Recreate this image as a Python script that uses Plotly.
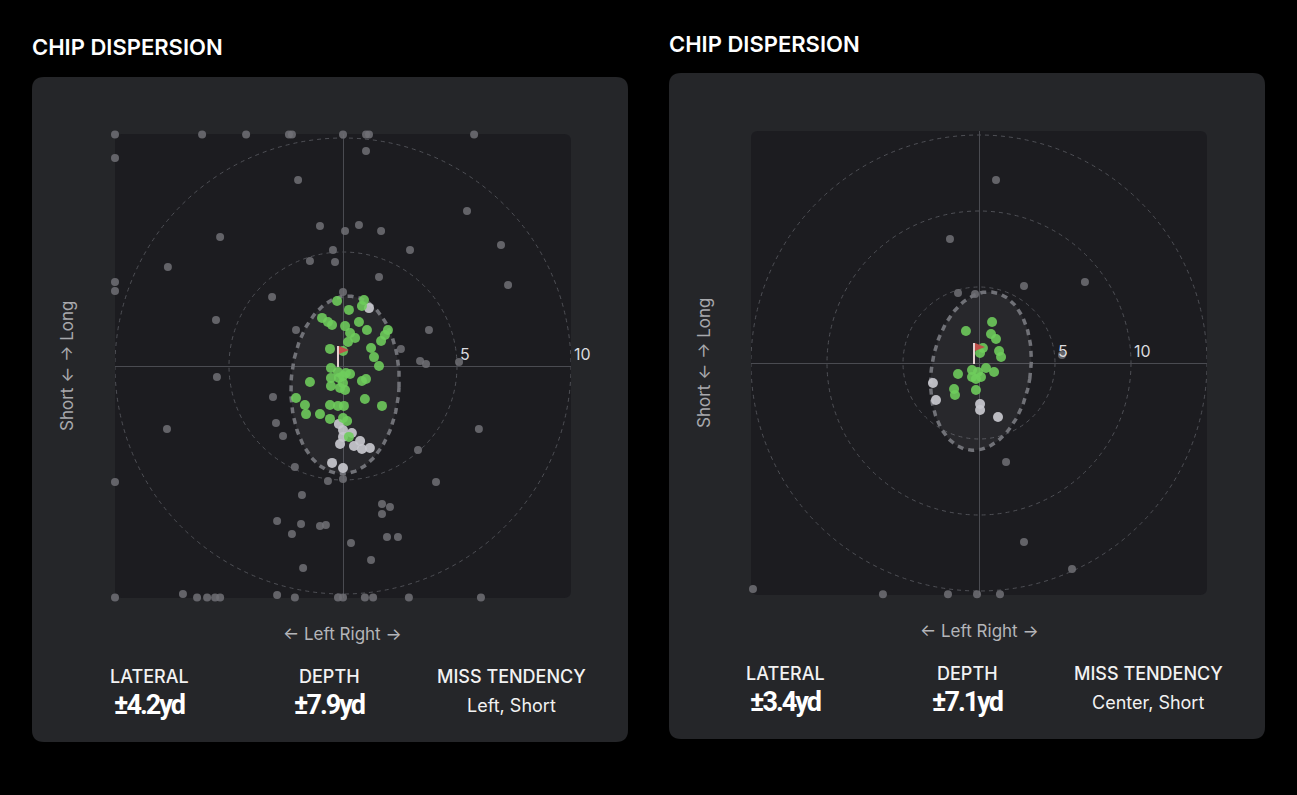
import numpy as np
import plotly.graph_objects as go

W, H = 1297, 795

# ---------------- data : left panel (yards) ----------------
a_gray_x = [-10.0, -6.18, -4.25, -2.37, -2.24, 0.0, 1.01, 1.14, 5.75,
            -10.0, 1.01, -1.97, 5.44, -5.39, -1.01, 0.09, 0.70, 1.67,
            -7.68, -0.44, 2.94, 6.93, -1.45, -0.35, 1.58, 7.24,
            -10.0, -10.0, -3.11, 0.0, -5.57, -2.06, 3.77, 2.54, 3.38, 3.64, 5.09,
            -5.53, -7.72, -3.07, -2.94, -2.63, 5.96, 3.29, -2.11, -0.66, 0.0, 4.08, -10.0,
            -1.80, 1.71, 2.06, 1.71, -2.89, -1.84, -1.01, -0.75, -2.24, 1.93, 2.41, 0.35, 1.23, -1.75,
            -7.02, -2.89,
            -10.0, -6.40, -5.96, -5.61, -5.39, -2.11, -0.22, 0.0, 0.96, 1.32, 2.89, 6.05]
a_gray_y = [10.15, 10.15, 10.15, 10.15, 10.15, 10.15, 10.15, 10.15, 10.15,
            9.12, 9.43, 8.16, 6.80, 5.66, 6.14, 5.92, 6.18, 5.92,
            4.34, 5.09, 5.09, 5.31, 4.61, 4.56, 3.90, 3.55,
            3.68, 3.29, 3.03, 3.25, 2.02, 1.58, 1.58, 0.75, 0.22, 0.09, 0.18,
            -0.48, -2.76, -1.36, -2.50, -3.07, -2.76, -3.68, -4.43, -5.04, -4.96, -5.09, -5.09,
            -5.66, -6.05, -6.18, -6.49, -6.80, -6.93, -7.02, -6.97, -7.37, -7.50, -7.50, -7.76, -8.51, -8.86,
            -10.0, -10.04,
            -10.15, -10.15, -10.15, -10.15, -10.15, -10.15, -10.15, -10.15, -10.15, -10.15, -10.15, -10.15]
a_green_x = [-0.26, 0.92, 0.83, 0.26, -0.92, -0.66, -0.48, 0.70, 0.09, 0.31, 1.05, 1.97,
             0.53, 1.84, 1.67, 0.22, -0.57, 0.0, 1.23, 1.36, 1.58, -0.53, -0.22, 0.13,
             0.31, -0.53, -0.18, 0.0, -1.45, 0.83, 1.01, -0.53, 0.0, 0.09, -0.13, -2.06,
             -1.67, -0.57, -0.22, 0.04, 0.96, 1.71, -1.62, -1.01, -0.57, 0.0, 0.18, 0.26]
a_green_y = [2.85, 2.89, 2.63, 2.46, 2.11, 1.93, 1.80, 1.93, 1.75, 1.45, 1.58, 1.58,
             1.23, 1.36, 1.10, 1.05, 0.75, 0.66, 0.79, 0.39, 0.0, -0.09, -0.26, -0.31,
             -0.35, -0.53, -0.53, -0.44, -0.70, -0.66, -0.57, -0.88, -0.75, -1.05, -0.96, -1.40,
             -1.71, -1.71, -1.75, -1.75, -1.45, -1.75, -2.11, -2.11, -2.32, -2.28, -2.41, -3.11]
a_white_x = [1.14, -0.18, 0.0, 0.39, 0.0, -0.13, 0.75, 0.48, 0.83, 1.18, -0.48, 0.0]
a_white_y = [2.54, -2.54, -2.81, -2.94, -3.11, -3.42, -3.29, -3.51, -3.64, -3.60, -4.25, -4.47]
a_rings = [5, 10]
a_ring_labels = ["5", "10"]
a_ellipse = [0.09, -0.83, 2.37, 3.90, 3.0]      # centre x, centre y, semi-x, semi-y, tilt (deg)
a_stat_values = ["±4.2yd", "±7.9yd", "Left, Short"]

# ---------------- data : right panel (yards) ----------------
b_gray_x = [1.12, -1.91, 6.97, 2.96, -1.38, -0.26, 5.46, 1.78, 2.96, 6.12, -14.87,
            -6.32, -2.04, -0.13, 1.38]
b_gray_y = [12.04, 8.16, 5.33, 5.07, 4.61, 4.54, 0.53, -6.51, -11.78, -13.55, -14.87,
            -15.22, -15.22, -15.22, -15.22]
b_green_x = [0.86, -0.86, 0.79, 1.12, 0.26, 1.32, 0.07, 1.45, 0.46, -1.38, -0.46, -0.07,
             -0.46, 0.13, -0.20, 0.99, -1.64, -1.58, -0.20]
b_green_y = [2.70, 2.11, 1.91, 1.58, 0.99, 0.79, 0.66, 0.39, -0.33, -0.72, -0.46, -0.59,
             -0.92, -0.92, -1.05, -0.59, -1.71, -2.11, -1.78]
b_white_x = [-3.03, -2.83, 0.07, 0.07, 1.25]
b_white_y = [-1.32, -2.43, -2.70, -3.09, -3.55]
b_rings = [5, 10, 15]
b_ring_labels = ["5", "10", ""]
b_ellipse = [0.13, -0.53, 3.25, 5.25, 9.0]
b_stat_values = ["±3.4yd", "±7.1yd", "Center, Short"]

stat_labels = ["LATERAL", "DEPTH", "MISS TENDENCY"]
chart_title = "CHIP DISPERSION"
y_title = "Short ← → Long"
x_title = "← Left Right →"

# ---------------- styling ----------------
FONT = "Inter, 'Open Sans', sans-serif"
NUM_FONT = "Roboto, 'Liberation Sans', sans-serif"
CARD = "#252629"
PLOT_BG = "#1c1c20"
GRAY = "rgba(112,112,118,0.85)"
GREEN = "rgba(110,205,92,0.88)"
WHITE = "rgba(200,200,206,0.92)"

panels = [
    dict(card=(32, 77, 628, 742), plot=(115, 134, 571, 598), xr=10,
         gx=a_gray_x, gy=a_gray_y, grx=a_green_x, gry=a_green_y, wx=a_white_x, wy=a_white_y,
         rings=a_rings, ring_labels=a_ring_labels, ell=a_ellipse, stats=a_stat_values,
         title_y=47, head_y=676, val_y=705),
    dict(card=(669, 73, 1265, 739), plot=(751, 131, 1207, 595), xr=15,
         gx=b_gray_x, gy=b_gray_y, grx=b_green_x, gry=b_green_y, wx=b_white_x, wy=b_white_y,
         rings=b_rings, ring_labels=b_ring_labels, ell=b_ellipse, stats=b_stat_values,
         title_y=44, head_y=673, val_y=702),
]


def px(x):
    return x / W


def py(y):
    return 1 - y / H


def rounded_path(x0, y0, x1, y1, r):
    rx, ry = r / W, r / H
    X0, X1, Y0, Y1 = px(x0), px(x1), py(y0), py(y1)   # Y0 top, Y1 bottom
    return (f"M {X0+rx},{Y0} L {X1-rx},{Y0} Q {X1},{Y0} {X1},{Y0-ry} "
            f"L {X1},{Y1+ry} Q {X1},{Y1} {X1-rx},{Y1} L {X0+rx},{Y1} "
            f"Q {X0},{Y1} {X0},{Y1+ry} L {X0},{Y0-ry} Q {X0},{Y0} {X0+rx},{Y0} Z")


fig = go.Figure()
shapes, annotations = [], []

for i, p in enumerate(panels):
    sfx = "" if i == 0 else str(i + 1)
    xref, yref = "x" + sfx, "y" + sfx
    cx0, cy0, cx1, cy1 = p["card"]
    l, t, r, b = p["plot"]
    xr = p["xr"]
    yr = xr * (b - t) / (r - l)

    axis_common = dict(showgrid=False, showticklabels=False, ticks="", showline=False,
                       zeroline=True, zerolinecolor="#4a4b51", zerolinewidth=1, fixedrange=True)
    fig.layout["xaxis" + sfx] = dict(domain=[px(l), px(r)], range=[-xr, xr],
                                     anchor=yref, **axis_common)
    fig.layout["yaxis" + sfx] = dict(domain=[py(b), py(t)], range=[-yr, yr],
                                     anchor=xref, **axis_common)

    # card & plot background
    shapes.append(dict(type="path", xref="paper", yref="paper", layer="below",
                       path=rounded_path(cx0, cy0, cx1, cy1, 12), fillcolor=CARD, line=dict(width=0)))
    shapes.append(dict(type="path", xref="paper", yref="paper", layer="below",
                       path=rounded_path(l, t, r, b, 7), fillcolor=PLOT_BG, line=dict(width=0)))

    # range rings
    for rr, lab in zip(p["rings"], p["ring_labels"]):
        shapes.append(dict(type="circle", xref=xref, yref=yref, layer="below",
                           x0=-rr, x1=rr, y0=-rr, y1=rr,
                           line=dict(color="#4f5056", width=1, dash="4px,4px")))
        if lab:
            annotations.append(dict(x=rr, y=0, xref=xref, yref=yref, text=lab, showarrow=False,
                                    xanchor="left", yanchor="bottom", xshift=1, yshift=0,
                                    font=dict(family=FONT, size=16, color="#dadade")))

    # dispersion ellipse
    ecx, ecy, ea, eb, tilt = p["ell"]
    tt = np.linspace(0, 2 * np.pi, 181)
    th = np.radians(tilt)
    ex0, ey0 = ea * np.cos(tt), eb * np.sin(tt)
    ex = ecx + ex0 * np.cos(th) + ey0 * np.sin(th)
    ey = ecy - ex0 * np.sin(th) + ey0 * np.cos(th)
    fig.add_trace(go.Scatter(x=ex, y=ey, xaxis=xref, yaxis=yref, mode="lines", fill="toself",
                             fillcolor="rgba(255,255,255,0.055)",
                             line=dict(color="#707177", width=3.5, dash="6px,5px"),
                             hoverinfo="skip", showlegend=False))

    # shots
    fig.add_trace(go.Scatter(x=p["gx"], y=p["gy"], xaxis=xref, yaxis=yref, mode="markers",
                             marker=dict(size=8, color=GRAY), cliponaxis=False,
                             hoverinfo="skip", showlegend=False))
    fig.add_trace(go.Scatter(x=p["wx"], y=p["wy"], xaxis=xref, yaxis=yref, mode="markers",
                             marker=dict(size=10, color=WHITE), cliponaxis=False,
                             hoverinfo="skip", showlegend=False))
    fig.add_trace(go.Scatter(x=p["grx"], y=p["gry"], xaxis=xref, yaxis=yref, mode="markers",
                             marker=dict(size=10, color=GREEN), cliponaxis=False,
                             hoverinfo="skip", showlegend=False))

    # pin flag at the hole
    shapes.append(dict(type="line", xref=xref, yref=yref, xsizemode="pixel", ysizemode="pixel",
                       xanchor=0, yanchor=0, x0=-5, x1=-5, y0=-1, y1=20, layer="above",
                       line=dict(color="#e6d2d2", width=2)))
    shapes.append(dict(type="path", xref=xref, yref=yref, xsizemode="pixel", ysizemode="pixel",
                       xanchor=0, yanchor=0, path="M -4,20 L 6,16 L -4,12 Z", layer="above",
                       fillcolor="#c0504a", line=dict(width=0)))

    # texts
    annotations.append(dict(x=px(cx0 - 2), y=py(p["title_y"]), xref="paper", yref="paper",
                            text=chart_title, showarrow=False, xanchor="left", yanchor="middle",
                            font=dict(family=FONT, size=22, color="#ffffff", weight=600)))
    mid_y = (t + b) / 2
    mid_x = (l + r) / 2
    annotations.append(dict(x=px(cx0 + 35), y=py(mid_y), xref="paper", yref="paper",
                            text=y_title, textangle=-90, showarrow=False,
                            xanchor="center", yanchor="middle",
                            font=dict(family=FONT, size=17, color="#a8a9ad")))
    annotations.append(dict(x=px(mid_x), y=py(b + 36), xref="paper", yref="paper",
                            text=x_title, showarrow=False, xanchor="center", yanchor="middle",
                            font=dict(family=FONT, size=17, color="#b4b5b9")))
    card_mid = (cx0 + cx1) / 2
    for k, (lab, val) in enumerate(zip(stat_labels, p["stats"])):
        colx = card_mid + (k - 1) * 181
        annotations.append(dict(x=px(colx), y=py(p["head_y"]), xref="paper", yref="paper",
                                text=lab, showarrow=False, xanchor="center", yanchor="middle",
                                font=dict(family=FONT, size=18, color="#f2f2f2", weight=500)))
        if k < 2:
            vfont = dict(family=NUM_FONT, size=27, color="#ffffff", weight=700)
            vtext = f'<span style="letter-spacing:-2px">{val}</span>'
        else:
            vfont = dict(family=FONT, size=18, color="#f2f2f2")
            vtext = val
        annotations.append(dict(x=px(colx), y=py(p["val_y"]), xref="paper", yref="paper",
                                text=vtext, showarrow=False, xanchor="center", yanchor="middle",
                                font=vfont))

fig.update_layout(width=W, height=H, margin=dict(l=0, r=0, t=0, b=0),
                  paper_bgcolor="#000000", plot_bgcolor="rgba(0,0,0,0)",
                  showlegend=False, shapes=shapes, annotations=annotations)

fig.write_html("out.html")
